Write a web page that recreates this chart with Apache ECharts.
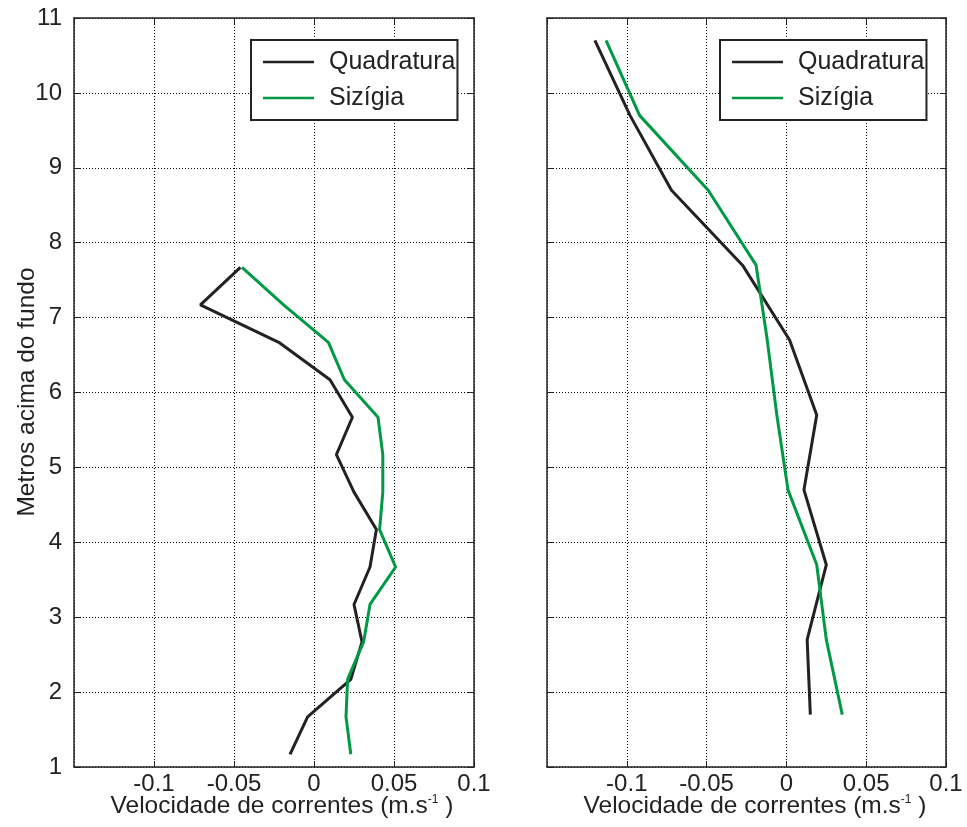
<!DOCTYPE html>
<html>
<head>
<meta charset="utf-8">
<script src="https://cdn.jsdelivr.net/npm/echarts@6/dist/echarts.min.js"></script>
<style>
  html, body { margin: 0; padding: 0; background: #fff; }
  #chart { width: 967px; height: 827px; }
</style>
</head>
<body>
<div id="chart"></div>
<script>
  // alturas (m acima do fundo)
  const heightsLeft = [1.17, 1.67, 2.17, 2.67, 3.17, 3.67, 4.17, 4.67, 5.17, 5.67, 6.17, 6.67, 7.17, 7.67]
  const quadLeft = [-0.015, -0.004, 0.023, 0.030, 0.025, 0.035, 0.039, 0.025, 0.014, 0.024, 0.010, -0.022, -0.071, -0.046]
  const sizLeft = [0.023, 0.020, 0.021, 0.031, 0.035, 0.051, 0.041, 0.043, 0.043, 0.040, 0.019, 0.009, -0.019, -0.045]

  const heightsRight = [1.7, 2.7, 3.7, 4.7, 5.7, 6.7, 7.7, 8.7, 9.7, 10.7]
  const quadRight = [0.015, 0.013, 0.025, 0.011, 0.019, 0.002, -0.0275, -0.072, -0.098, -0.120]
  const sizRight = [0.035, 0.025, 0.019, 0.001, -0.006, -0.012, -0.019, -0.049, -0.092, -0.113]

  const seriesNames = ['Quadratura', 'Sizígia']
  const colors = ['#222222', '#009944']
  const xTitle = 'Velocidade de correntes (m.s{sup|-1} )'
  const yTitle = 'Metros acima do fundo'

  const font = '"Liberation Sans", Arial, sans-serif'
  const gridLine = { show: true, lineStyle: { color: '#000', type: [1, 2], width: 1 } }

  const pairs = (xs, ys) => xs.map((x, i) => [x, ys[i]])

  const myChart = echarts.init(document.getElementById('chart'))

  const grids = [
    { left: 74, top: 18, width: 400, height: 749, outerBoundsMode: 'none' },
    { left: 547, top: 18, width: 399, height: 749, outerBoundsMode: 'none' }
  ]

  const makeX = (idx) => ({
    type: 'value',
    gridIndex: idx,
    min: -0.15,
    max: 0.1,
    interval: 0.05,
    axisLine: { show: true, onZero: false, lineStyle: { color: '#222', width: 1.5 } },
    axisTick: { show: true, inside: true, length: 6, lineStyle: { color: '#222' } },
    axisLabel: {
      showMinLabel: false,
      margin: 5,
      color: '#222',
      fontSize: 24,
      fontFamily: font,
      formatter: (v) => String(+v.toFixed(2))
    },
    splitLine: gridLine
  })

  const makeY = (idx, labels) => ({
    type: 'value',
    gridIndex: idx,
    min: 1,
    max: 11,
    interval: 1,
    axisLine: { show: true, onZero: false, lineStyle: { color: '#222', width: 1.5 } },
    axisTick: { show: true, inside: true, length: 6, lineStyle: { color: '#222' } },
    axisLabel: { show: labels, margin: 12, color: '#222', fontSize: 24, fontFamily: font },
    splitLine: gridLine
  })

  // eixos espelhados (marcas no topo e à direita)
  const mirrorX = (idx) => ({
    type: 'value', gridIndex: idx, position: 'top', min: -0.15, max: 0.1, interval: 0.05,
    axisLine: { show: true, onZero: false, lineStyle: { color: '#222', width: 1.5 } },
    axisTick: { show: true, inside: true, length: 6, lineStyle: { color: '#222' } },
    axisLabel: { show: false }, splitLine: { show: false }
  })
  const mirrorY = (idx) => ({
    type: 'value', gridIndex: idx, position: 'right', min: 1, max: 11, interval: 1,
    axisLine: { show: true, onZero: false, lineStyle: { color: '#222', width: 1.5 } },
    axisTick: { show: true, inside: true, length: 6, lineStyle: { color: '#222' } },
    axisLabel: { show: false }, splitLine: { show: false }
  })

  const makeLegend = (left) => ({
    left: left,
    top: 40,
    orient: 'vertical',
    icon: 'rect',
    itemWidth: 51,
    itemHeight: 2.5,
    itemGap: 10,
    padding: [9, 2, 9, 12],
    backgroundColor: '#fff',
    borderColor: '#222',
    borderWidth: 2,
    borderRadius: 0,
    textStyle: { color: '#222', fontSize: 25, fontFamily: font, lineHeight: 26, padding: [0, 0, 0, 10] },
    data: seriesNames
  })

  const lineSeries = (name, data, xi, yi, color) => ({
    name: name,
    type: 'line',
    xAxisIndex: xi,
    yAxisIndex: yi,
    data: data,
    symbol: 'none',
    color: color,
    lineStyle: { color: color, width: 3 },
    animation: false
  })

  // títulos dos eixos
  const xTitleText = (cx) => ({
    type: 'text',
    x: cx,
    y: 806,
    style: {
      text: xTitle,
      fill: '#222',
      font: '24.5px ' + font,
      align: 'center',
      verticalAlign: 'middle',
      textAlign: 'center',
      textVerticalAlign: 'middle',
      rich: { sup: { fontSize: 12, fontFamily: font, fill: '#222', verticalAlign: 'top', lineHeight: 12 } }
    }
  })

  const option = {
    backgroundColor: '#fff',
    animation: false,
    grid: grids,
    xAxis: [makeX(0), makeX(1), mirrorX(0), mirrorX(1)],
    yAxis: [makeY(0, true), makeY(1, false), mirrorY(0), mirrorY(1)],
    legend: [makeLegend(251), makeLegend(720)],
    graphic: [
      xTitleText(282),
      xTitleText(755),
      {
        type: 'text',
        x: 27,
        y: 392,
        rotation: Math.PI / 2,
        style: {
          text: yTitle,
          fill: '#222',
          font: '24.5px ' + font,
          align: 'center',
          verticalAlign: 'middle',
          textAlign: 'center',
          textVerticalAlign: 'middle'
        }
      }
    ],
    series: [
      lineSeries(seriesNames[0], pairs(quadLeft, heightsLeft), 0, 0, colors[0]),
      lineSeries(seriesNames[1], pairs(sizLeft, heightsLeft), 0, 0, colors[1]),
      lineSeries(seriesNames[0], pairs(quadRight, heightsRight), 1, 1, colors[0]),
      lineSeries(seriesNames[1], pairs(sizRight, heightsRight), 1, 1, colors[1])
    ]
  }

  myChart.setOption(option)
</script>
</body>
</html>
